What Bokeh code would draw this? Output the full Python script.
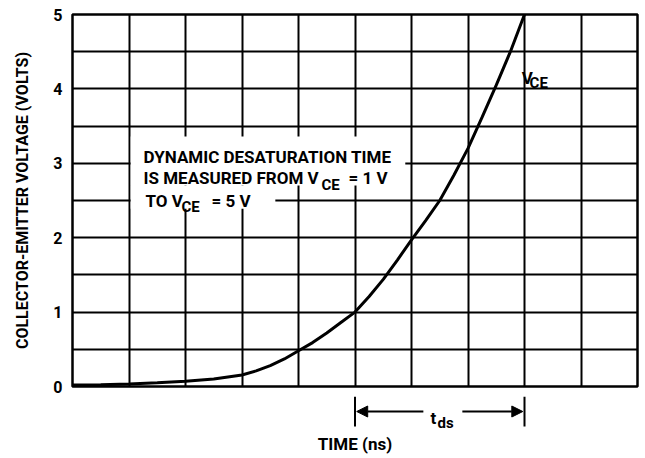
from bokeh.plotting import figure
from bokeh.layouts import column
from bokeh.models import FixedTicker, Label, Arrow, NormalHead, BoxAnnotation, Range1d
from bokeh.embed import file_html
from bokeh.resources import INLINE

# ---- data ----
time_ns = [0, 0.5, 1, 1.5, 2, 2.5, 3, 3.25, 3.5, 3.75, 4, 4.25, 4.5, 4.75, 5,
           5.25, 5.5, 5.75, 6, 6.25, 6.5, 6.75, 7, 7.25, 7.5, 7.75, 8]
vce = [0.02, 0.025, 0.035, 0.05, 0.07, 0.10, 0.155, 0.21, 0.28, 0.37, 0.48, 0.59, 0.72, 0.86, 1.0,
       1.21, 1.44, 1.70, 1.97, 2.23, 2.50, 2.84, 3.2, 3.62, 4.05, 4.5, 5.0]
x_grid_ticks = [0, 1, 2, 3, 4, 5, 6, 7, 8, 9, 10]
y_grid_ticks = [0, 0.5, 1, 1.5, 2, 2.5, 3, 3.5, 4, 4.5, 5]
y_tick_labels = [0, 1, 2, 3, 4, 5]
t_start_1v = 5.0   # time where VCE = 1 V
t_end_5v = 8.0     # time where VCE = 5 V

FONT = "Roboto"

x_range = Range1d(0, 10)

# ---------------- main chart ----------------
p = figure(frame_width=565, frame_height=372, x_range=x_range, y_range=Range1d(0, 5),
           output_backend="svg", toolbar_location=None,
           min_border_left=72, min_border_right=4, min_border_top=14, min_border_bottom=10)
p.background_fill_color = "white"
p.border_fill_color = "white"
p.outline_line_color = "black"
p.outline_line_width = 2.5

p.xgrid.ticker = FixedTicker(ticks=x_grid_ticks)
p.ygrid.ticker = FixedTicker(ticks=y_grid_ticks)
for g in (p.xgrid, p.ygrid):
    g.grid_line_color = "black"
    g.grid_line_width = 2
    g.grid_line_alpha = 1.0

p.xaxis.visible = False

p.yaxis.ticker = FixedTicker(ticks=y_tick_labels)
p.yaxis.axis_line_color = None
p.yaxis.major_tick_line_color = None
p.yaxis.minor_tick_line_color = None
p.yaxis.major_tick_out = 0
p.yaxis.major_tick_in = 0
p.yaxis.major_label_standoff = 10
p.yaxis.major_label_text_font = FONT
p.yaxis.major_label_text_font_style = "bold"
p.yaxis.major_label_text_font_size = "16px"
p.yaxis.major_label_text_color = "black"
p.yaxis.axis_label = "COLLECTOR-EMITTER VOLTAGE (VOLTS)"
p.yaxis.axis_label_standoff = 18
p.yaxis.axis_label_text_font = FONT
p.yaxis.axis_label_text_font_style = "bold"
p.yaxis.axis_label_text_font_size = "16px"
p.yaxis.axis_label_text_color = "black"

p.line(time_ns, vce, line_width=3, line_color="black")

# white backgrounds behind the note text
p.add_layout(BoxAnnotation(left=1.03, right=5.89, bottom=2.70, top=3.36,
                           fill_color="white", fill_alpha=1.0, line_color=None))
p.add_layout(BoxAnnotation(left=1.03, right=3.59, bottom=2.39, top=2.70,
                           fill_color="white", fill_alpha=1.0, line_color=None))


def lab(fig, x, y, text, size="17px"):
    fig.add_layout(Label(x=x, y=y, text=text, text_font=FONT, text_font_style="bold",
                         text_font_size=size, text_color="black",
                         text_align="left", text_baseline="alphabetic"))


lab(p, 1.257, 3.091, "DYNAMIC DESATURATION TIME")
lab(p, 1.257, 2.796, "IS MEASURED FROM V")
lab(p, 4.407, 2.715, "CE", "15px")
lab(p, 4.885, 2.796, "= 1 V")
lab(p, 1.292, 2.50, "TO V")
lab(p, 1.929, 2.419, "CE", "15px")
lab(p, 2.460, 2.50, "= 5 V")

lab(p, 7.95, 4.153, "V")
lab(p, 8.09, 4.086, "CE", "15px")

# ---------------- dimension strip below (t_ds) ----------------
q = figure(frame_width=565, frame_height=35, x_range=x_range, y_range=Range1d(-0.605, -0.134),
           output_backend="svg", toolbar_location=None,
           min_border_left=72, min_border_right=4, min_border_top=0, min_border_bottom=0)
q.background_fill_color = "white"
q.border_fill_color = "white"
q.outline_line_color = None
q.grid.visible = False
q.yaxis.visible = False
q.xaxis.ticker = FixedTicker(ticks=[])
q.xaxis.axis_line_color = None
q.xaxis.major_tick_line_color = None
q.xaxis.minor_tick_line_color = None
q.xaxis.major_tick_out = 0
q.xaxis.major_tick_in = 0
q.xaxis.axis_label = "TIME (ns)"
q.xaxis.axis_label_standoff = 2
q.xaxis.axis_label_text_font = FONT
q.xaxis.axis_label_text_font_style = "bold"
q.xaxis.axis_label_text_font_size = "17px"
q.xaxis.axis_label_text_color = "black"

y_arrow = -0.336
for xb in (t_start_1v, t_end_5v):
    q.add_layout(Arrow(x_start=xb, y_start=-0.134, x_end=xb, y_end=-0.538,
                       start=None, end=None, line_width=2, line_color="black"))
q.add_layout(Arrow(x_start=6.21, y_start=y_arrow, x_end=t_start_1v + 0.03, y_end=y_arrow,
                   start=None, end=NormalHead(size=11, fill_color="black", line_color="black"),
                   line_width=2, line_color="black"))
q.add_layout(Arrow(x_start=6.90, y_start=y_arrow, x_end=t_end_5v - 0.03, y_end=y_arrow,
                   start=None, end=NormalHead(size=11, fill_color="black", line_color="black"),
                   line_width=2, line_color="black"))
lab(q, 6.336, -0.417, "t")
lab(q, 6.46, -0.484, "ds", "15px")

layout = column(p, q, spacing=0)
open("out.html", "w").write(file_html(layout, INLINE))
